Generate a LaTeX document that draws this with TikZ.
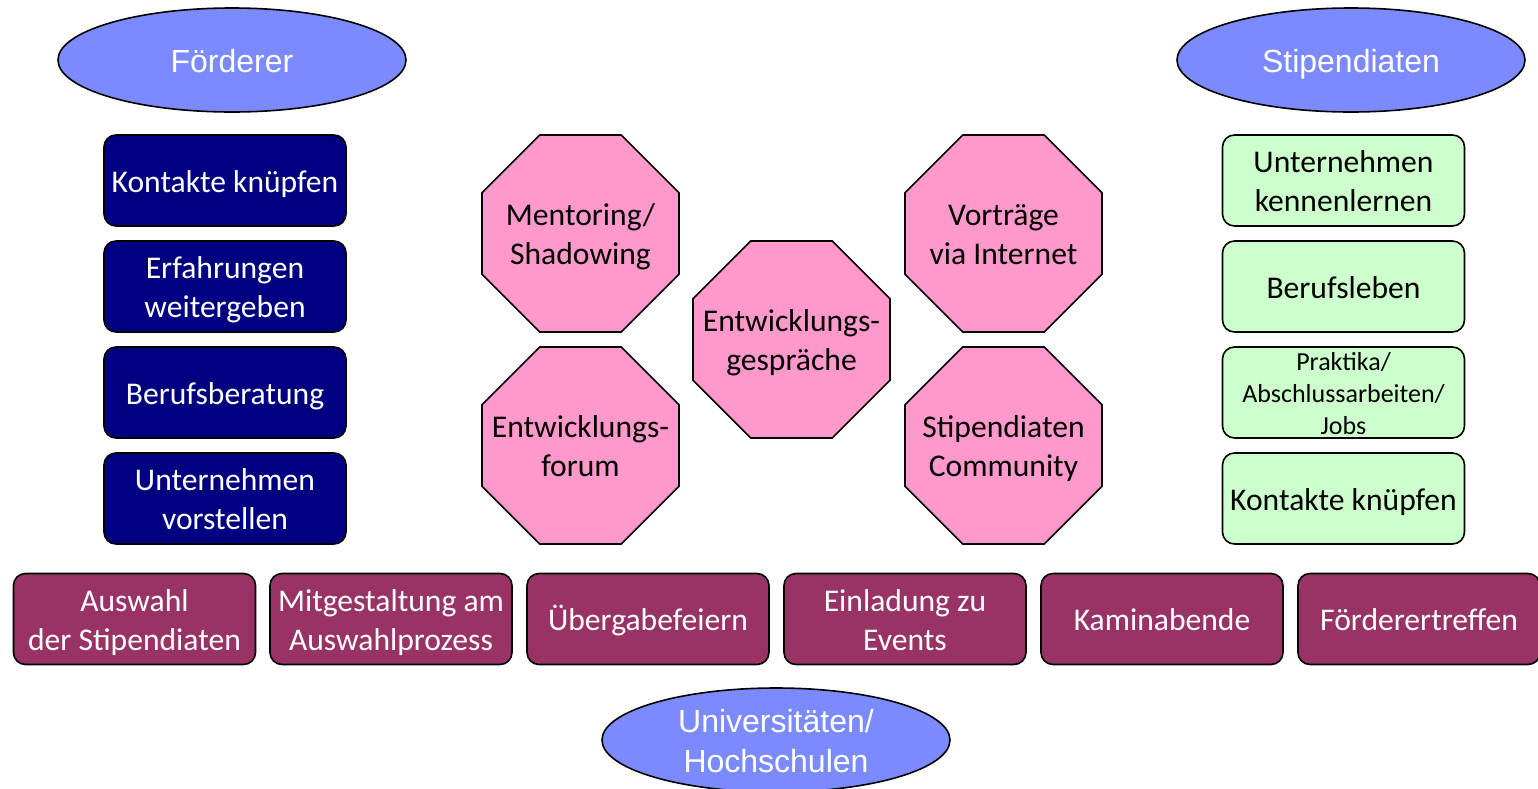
\documentclass[tikz,border=0pt]{standalone}
\usepackage{fontspec}
\setmainfont{Carlito}
\newfontfamily\arialfont{Liberation Sans}
\usetikzlibrary{shapes.geometric}
\definecolor{cEll}{HTML}{7B8BFF}
\definecolor{cNavy}{HTML}{000080}
\definecolor{cGreen}{HTML}{CCFFCC}
\definecolor{cPurple}{HTML}{993366}
\definecolor{cPink}{HTML}{FF99CC}
\newcommand\tl[2][-5.6pt]{\smash{\makebox[0pt]{\raisebox{#1}{\begin{tabular}{@{}c@{}}#2\end{tabular}}}}}
\begin{document}
\begin{tikzpicture}[x=0.5pt,y=-0.5pt,
  ellnode/.style={ellipse,draw=black,line width=0.8pt,fill=cEll,minimum width=174pt,minimum height=52pt,inner sep=0pt,text=white,font=\arialfont\fontsize{16}{20}\selectfont},
  boxbase/.style={rectangle,rounded corners=6pt,draw=black,line width=0.8pt,minimum width=121pt,minimum height=45.5pt,inner sep=0pt,font=\fontsize{15.8}{19.3}\selectfont},
  bluebox/.style={boxbase,fill=cNavy,text=white},
  grnbox/.style={boxbase,fill=cGreen,text=black},
  purpbox/.style={boxbase,fill=cPurple,text=white},
  octa/.style={regular polygon,regular polygon sides=8,minimum size=106.6pt,inner sep=0pt,draw=black,line width=0.8pt,fill=cPink,text=black,font=\fontsize{15.8}{19.5}\selectfont}
]
\useasboundingbox (0,0) rectangle (1538,788);
\begin{scope}
\clip (0,0) rectangle (1538,788);
% ellipses
\node[ellnode] (foerderer) at (232,60) {\tl[-6.6pt]{Förderer}};
\node[ellnode] (stip) at (1351,60) {\tl[-6.6pt]{Stipendiaten}};
\node[ellnode] (uni) at (776,740) {\tl[-6.8pt]{Universitäten/\\Hochschulen}};
% left column
\node[bluebox] (l1) at (225,180.5) {\tl{Kontakte knüpfen}};
\node[bluebox] (l2) at (225,286.5) {\tl{Erfahrungen\\weitergeben}};
\node[bluebox] (l3) at (225,392.5) {\tl{Berufsberatung}};
\node[bluebox] (l4) at (225,498.5) {\tl{Unternehmen\\vorstellen}};
% right column
\node[grnbox] (r1) at (1343.5,180.5) {\tl{Unternehmen\\kennenlernen}};
\node[grnbox] (r2) at (1343.5,286.5) {\tl{Berufsleben}};
\node[grnbox,font=\fontsize{13}{16}\selectfont] (r3) at (1343.5,392.5) {\tl[-5pt]{Praktika/\\Abschlussarbeiten/\\Jobs}};
\node[grnbox] (r4) at (1343.5,498.5) {\tl{Kontakte knüpfen}};
% octagons
\node[octa] (o1) at (580.5,233.5) {\tl{Mentoring/\\Shadowing}};
\node[octa] (o2) at (580.5,445.5) {\tl{Entwicklungs-\\forum}};
\node[octa] (o3) at (791.5,339.5) {\tl{Entwicklungs-\\gespräche}};
\node[octa] (o4) at (1003.5,233.5) {\tl{Vorträge\\via Internet}};
\node[octa] (o5) at (1003.5,445.5) {\tl{Stipendiaten\\Community}};
% bottom row
\node[purpbox] (b1) at (134.5,619) {\tl{Auswahl\\der Stipendiaten}};
\node[purpbox] (b2) at (391,619) {\tl{Mitgestaltung am\\Auswahlprozess}};
\node[purpbox] (b3) at (648,619) {\tl{Übergabefeiern}};
\node[purpbox] (b4) at (905,619) {\tl{Einladung zu\\Events}};
\node[purpbox] (b5) at (1162,619) {\tl{Kaminabende}};
\node[purpbox] (b6) at (1419,619) {\tl{Förderertreffen}};
\end{scope}
\end{tikzpicture}
\end{document}
